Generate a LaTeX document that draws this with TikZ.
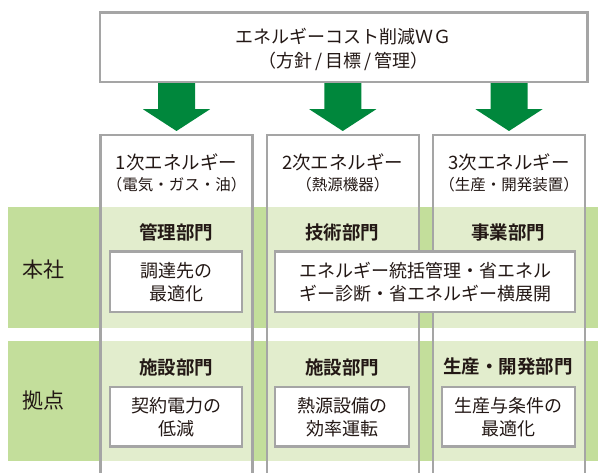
\documentclass[tikz,border=0pt]{standalone}
\usepackage{fontspec}
\newfontfamily\jp{Noto Sans CJK JP}[BoldFont={Noto Sans CJK JP Bold}]
\usetikzlibrary{calc}
\definecolor{bandg}{HTML}{C3DE9B}
\definecolor{lightg}{HTML}{E2EDCD}
\definecolor{arrowg}{HTML}{00873C}
\definecolor{bord}{HTML}{A5A5A5}
\definecolor{txt}{HTML}{231815}
\tikzset{
  box/.style={draw=bord, line width=2.5pt, fill=white, inner sep=0pt, align=center,
              font=\jp\fontsize{18}{23}\selectfont, text=txt},
  colline/.style={draw=bord, line width=2.5pt},
  lbl/.style={inner sep=0pt, align=center, text=txt},
  hdr/.style={lbl, font=\jp\fontsize{18.5}{22}\selectfont},
  sub/.style={lbl, font=\jp\fontsize{15.5}{18}\selectfont},
  dept/.style={lbl, font=\jp\bfseries\fontsize{18.5}{22}\selectfont},
  rowl/.style={lbl, font=\jp\fontsize{21}{24}\selectfont},
  blockarrow/.style={fill=arrowg}
}
\begin{document}
\begin{tikzpicture}[x=1pt,y=-1pt]
\useasboundingbox (0,0) rectangle (598,473);
% bands
\fill[bandg] (8,207) rectangle (598,328);
\fill[bandg] (8,341) rectangle (598,461);
% column coordinates (top centre)
\coordinate (c1) at (176.5,135);
\coordinate (c2) at (342.75,135);
\coordinate (c3) at (509,135);
% column interiors in bands
\foreach \c in {c1,c2,c3}{
  \fill[lightg] ($(\c)+(-76,72)$) rectangle ($(\c)+(76,193)$);
  \fill[lightg] ($(\c)+(-76,206)$) rectangle ($(\c)+(76,326)$);
  \draw[colline] ($(\c)+(-76,340)$) -- ($(\c)+(-76,0)$) -- ($(\c)+(76,0)$) -- ($(\c)+(76,340)$);
}
% top box
\node[box, minimum width=487.5pt, minimum height=69.5pt] (top) at (343.75,47.25) {};
\node[lbl, font=\jp\fontsize{18}{22}\selectfont] (toptext1) at (343.75,37) {エネルギーコスト削減ＷＧ};
\node[lbl, font=\jp\fontsize{18}{22}\selectfont] (toptext2) at (343.75,61) {（方針\,/\,目標\,/\,管理）};
% arrows
\foreach \c in {c1,c2,c3}{
  \fill[blockarrow] ($(top.south -| \c)+(-18.5,0)$) -- ++(0,26) -- ++(-15,0)
    -- ($(\c)+(0,-4)$) -- ($(top.south -| \c)+(33.5,26)$) -- ++(-15,0) -- ++(0,-26) -- cycle;
}
% column headers
\node[hdr] (h1) at ($(c1)+(0,27)$) {1次エネルギー};
\node[sub] (s1) at ($(c1)+(0,50)$) {（電気・ガス・油）};
\node[hdr] (h2) at ($(c2)+(0,27)$) {2次エネルギー};
\node[sub] (s2) at ($(c2)+(0,50)$) {（熱源機器）};
\node[hdr] (h3) at ($(c3)+(0,27)$) {3次エネルギー};
\node[sub] (s3) at ($(c3)+(0,50)$) {（生産・開発装置）};
% row labels
\node[rowl] (r1) at (44,270) {本社};
\node[rowl] (r2) at (44,401) {拠点};
% departments row 1
\node[dept] (d11) at (176,232) {管理部門};
\node[dept] (d12) at (342,232) {技術部門};
\node[dept] (d13) at (508,232) {事業部門};
% departments row 2
\node[dept] (d21) at (176,367) {施設部門};
\node[dept] (d22) at (342,367) {施設部門};
\node[dept] (d23) at (508,367) {生産・開発部門};
% inner boxes row 1
\node[box, minimum width=132pt, minimum height=60.5pt] (b11) at (176,281.75) {調達先の\\最適化};
\node[box, minimum width=300pt, minimum height=60.5pt] (b12) at (425,281.75) {エネルギー統括管理・省エネル\\ギー診断・省エネルギー横展開};
% inner boxes row 2
\node[box, minimum width=132pt, minimum height=59.5pt] (b21) at (176,416.75) {契約電力の\\低減};
\node[box, minimum width=134pt, minimum height=59.5pt] (b22) at (342,416.75) {熱源設備の\\効率運転};
\node[box, minimum width=133pt, minimum height=59.5pt] (b23) at (508.5,416.75) {生産与条件の\\最適化};
\end{tikzpicture}
\end{document}
